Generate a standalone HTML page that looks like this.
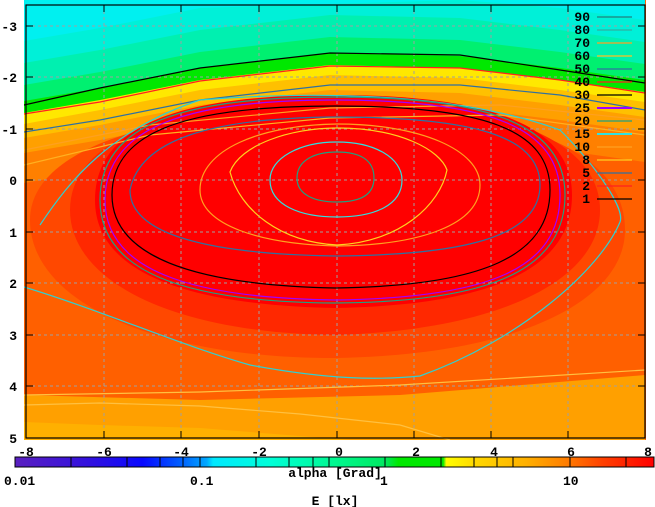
<!DOCTYPE html>
<html><head><meta charset="utf-8"><style>
body{margin:0;background:#fff;}
svg{display:block;font-family:"Liberation Mono",monospace;font-weight:bold;font-size:13px;}
</style></head><body>
<svg width="655" height="507" viewBox="0 0 655 507" xmlns="http://www.w3.org/2000/svg">
<defs>
<clipPath id="c"><rect x="24" y="0" width="622" height="440"/></clipPath>
<linearGradient id="cb" x1="0" x2="1" y1="0" y2="0">
<stop offset="0" stop-color="#5a20c0"/><stop offset="0.12" stop-color="#3010e0"/>
<stop offset="0.2" stop-color="#0808ff"/><stop offset="0.26" stop-color="#0060ff"/>
<stop offset="0.3" stop-color="#00a8ff"/><stop offset="0.31" stop-color="#00e8ff"/>
<stop offset="0.4" stop-color="#00ffd8"/><stop offset="0.5" stop-color="#00f890"/>
<stop offset="0.58" stop-color="#00e860"/><stop offset="0.6" stop-color="#00e800"/>
<stop offset="0.67" stop-color="#00e800"/><stop offset="0.675" stop-color="#ffff00"/>
<stop offset="0.72" stop-color="#ffd800"/><stop offset="0.8" stop-color="#ffb000"/>
<stop offset="0.86" stop-color="#ff8000"/><stop offset="0.92" stop-color="#ff4000"/>
<stop offset="1" stop-color="#ff0000"/>
</linearGradient>
</defs>
<g clip-path="url(#c)">
<rect x="0" y="0" width="655" height="440" fill="#ff6000"/>
<!-- top bands: boundary B: 24,113 100,100 200,80 330,65 460,68 560,80 645,92 -->
<path d="M24,0 L645,0 L645,162 L560,150 L460,138 L330,135 L200,150 L100,170 L24,183 Z" fill="#ff8000"/>
<path d="M24,0 L645,0 L645,132 L560,120 L460,108 L330,105 L200,120 L100,140 L24,153 Z" fill="#ffa000"/>
<path d="M24,0 L645,0 L645,117 L560,105 L460,93 L330,90 L200,105 L100,125 L24,138 Z" fill="#ffc000"/>
<path d="M24,0 L645,0 L645,102 L560,90 L460,78 L330,75 L200,90 L100,110 L24,124 Z" fill="#ffe800"/>
<path d="M24,0 L645,0 L645,92 L560,80 L460,68 L330,65 L200,80 L100,100 L24,113 Z" fill="#00e800"/>
<path d="M24,0 L645,0 L645,80 L560,68 L460,56 L330,53 L200,68 L100,88 L24,101 Z" fill="#00f070"/>
<path d="M24,0 L645,0 L645,64 L560,52 L460,40 L330,37 L200,52 L100,72 L24,85 Z" fill="#00f0b0"/>
<path d="M24,0 L645,0 L645,42 L560,30 L460,18 L330,15 L200,30 L100,50 L24,63 Z" fill="#00f0d8"/>
<path d="M24,0 L645,0 L645,20 L560,8 L460,0 L200,8 L100,28 L24,41 Z" fill="#00f0f0"/>
<!-- core -->
<path d="M30,220 C30,150 150,110 335,108 C520,108 625,150 625,230 C625,300 520,355 335,358 C150,358 30,300 30,220 Z" fill="#ff4800"/>
<path d="M70,210 C70,140 170,100 335,100 C500,100 600,140 600,210 C600,280 500,330 335,335 C170,333 70,280 70,210 Z" fill="#ff2800"/>
<path d="M95,200 C95,125 180,95 335,95 C490,95 572,125 572,195 C572,270 490,305 335,308 C180,305 95,270 95,200 Z" fill="#ff0000"/>
<!-- bottom -->
<path d="M24,395 L200,400 L400,395 L645,375 L645,440 L24,440 Z" fill="#ffa000"/>
<path d="M24,422 L100,425 L200,428 L350,440 L24,440 Z" fill="#ffb000"/>
<!-- grid -->
<g stroke="#a0a0a0" stroke-dasharray="3,3" stroke-width="1">
<line x1="104" y1="5" x2="104" y2="438"/><line x1="181" y1="5" x2="181" y2="438"/><line x1="259" y1="5" x2="259" y2="438"/>
<line x1="337" y1="5" x2="337" y2="438"/><line x1="414" y1="5" x2="414" y2="438"/><line x1="491" y1="5" x2="491" y2="438"/><line x1="568" y1="5" x2="568" y2="438"/>
<line x1="26" y1="26" x2="645" y2="26"/><line x1="26" y1="77" x2="645" y2="77"/><line x1="26" y1="129" x2="645" y2="129"/>
<line x1="26" y1="180" x2="645" y2="180"/><line x1="26" y1="232" x2="645" y2="232"/><line x1="26" y1="283" x2="645" y2="283"/>
<line x1="26" y1="335" x2="645" y2="335"/><line x1="26" y1="386" x2="645" y2="386"/>
</g>
<!-- contours -->
<g fill="none" stroke-width="1.2">
<path d="M24,105 L100,88 L200,68 L330,53 L460,55 L560,70 L645,83" stroke="#000"/>
<path d="M24,114 L100,102 L200,81 L330,66 L460,68 L560,80 L645,93" stroke="#ff2020"/>
<path d="M24,132 L100,120 L200,100 L330,85 L460,85 L560,95 L645,110" stroke="#3070a0"/>
<path d="M24,150 L150,125 L330,108 L500,105 L645,120" stroke="#ffa020"/>
<path d="M24,165 L150,135 L330,118 L500,115 L645,135" stroke="#ffb020"/>
<path d="M40,225 C70,180 110,130 200,100 C300,92 450,90 560,130 C600,170 625,210 620,222 C600,270 520,340 420,376 C380,380 330,380 250,365 C180,345 100,310 24,287" stroke="#30d0d0"/>
<path d="M100,200 C100,125 180,97 335,97 C490,97 565,125 565,195 C565,270 490,302 335,303 C180,302 100,270 100,200 Z" stroke="#20a080"/>
<path d="M105,200 C105,128 185,100 335,100 C490,100 560,128 560,195 C560,268 490,298 335,300 C185,298 105,268 105,200 Z" stroke="#a000ff"/>
<path d="M112,195 C112,130 190,106 335,106 C485,106 550,130 550,190 C550,255 485,286 335,288 C190,285 112,255 112,195 Z" stroke="#000"/>
<path d="M130,190 C140,140 210,118 335,117 C470,117 540,135 540,185 C540,235 470,255 335,256 C210,254 130,235 130,190 Z" stroke="#3070a0"/>
<path d="M200,190 C200,150 260,125 337,124 C420,124 480,150 480,185 C480,225 420,245 337,246 C260,244 200,225 200,190 Z" stroke="#ffa020"/>
<path d="M230,172 C240,145 290,128 337,128 C400,128 440,150 447,170 C440,205 400,242 337,245 C280,242 240,210 230,172 Z" stroke="#ffd020"/>
<path d="M270,180 C270,158 300,142 337,142 C375,142 402,158 402,180 C402,205 375,217 337,217 C300,217 270,205 270,180 Z" stroke="#30e0e0"/>
<path d="M297,178 C297,160 315,152 337,152 C360,152 374,160 374,178 C374,195 360,202 337,202 C315,202 297,195 297,178 Z" stroke="#20a080"/>
<path d="M24,395 L200,392 L400,385 L645,370" stroke="#ffc040"/>
<path d="M24,405 L100,403 L200,406 L300,414 L400,425 L450,440" stroke="#ffc040"/>
</g>
</g>
<!-- key -->
<g text-anchor="end">
<text x="590" y="21">90</text><text x="590" y="34">80</text><text x="590" y="47">70</text><text x="590" y="60">60</text>
<text x="590" y="73">50</text><text x="590" y="86">40</text><text x="590" y="99">30</text><text x="590" y="112">25</text>
<text x="590" y="125">20</text><text x="590" y="138">15</text><text x="590" y="151">10</text><text x="590" y="164">8</text>
<text x="590" y="177">5</text><text x="590" y="190">2</text><text x="590" y="203">1</text>
</g>
<g stroke-width="1.2">
<line x1="597" x2="632" y1="17" y2="17" stroke="#208080"/><line x1="597" x2="632" y1="30" y2="30" stroke="#30b0a0"/>
<line x1="597" x2="632" y1="43" y2="43" stroke="#ffa020"/><line x1="597" x2="632" y1="56" y2="56" stroke="#ffc020"/>
<line x1="597" x2="632" y1="69" y2="69" stroke="#3070a0"/><line x1="597" x2="632" y1="82" y2="82" stroke="#ff2020"/>
<line x1="597" x2="632" y1="95" y2="95" stroke="#000"/><line x1="597" x2="632" y1="108" y2="108" stroke="#a000ff" stroke-width="2"/>
<line x1="597" x2="632" y1="121" y2="121" stroke="#20a080"/><line x1="597" x2="632" y1="134" y2="134" stroke="#30e0e0" stroke-width="2"/>
<line x1="597" x2="632" y1="147" y2="147" stroke="#ffa020"/><line x1="597" x2="632" y1="160" y2="160" stroke="#ffd020"/>
<line x1="597" x2="632" y1="173" y2="173" stroke="#3070a0"/><line x1="597" x2="632" y1="186" y2="186" stroke="#ff2020"/>
<line x1="597" x2="632" y1="199" y2="199" stroke="#000"/>
</g>
<!-- border & ticks -->
<rect x="26" y="5" width="619" height="433" fill="none" stroke="#000" stroke-width="1.2"/>
<g stroke="#000" stroke-width="1">
<path d="M26,26h7M26,77h7M26,129h7M26,180h7M26,232h7M26,283h7M26,335h7M26,386h7M645,26h-7M645,77h-7M645,129h-7M645,180h-7M645,232h-7M645,283h-7M645,335h-7M645,386h-7"/>
<path d="M104,438v-7M181,438v-7M259,438v-7M337,438v-7M414,438v-7M491,438v-7M568,438v-7M104,5v7M181,5v7M259,5v7M337,5v7M414,5v7M491,5v7M568,5v7"/>
</g>
<g text-anchor="end">
<text x="17" y="31">-3</text><text x="17" y="82">-2</text><text x="17" y="134">-1</text><text x="17" y="185">0</text>
<text x="17" y="237">1</text><text x="17" y="288">2</text><text x="17" y="340">3</text><text x="17" y="391">4</text><text x="17" y="443">5</text>
</g>
<g text-anchor="middle">
<text x="26" y="456">-8</text><text x="104" y="456">-6</text><text x="181" y="456">-4</text><text x="259" y="456">-2</text>
<text x="339" y="456">0</text><text x="416" y="456">2</text><text x="494" y="456">4</text><text x="571" y="456">6</text><text x="648" y="456">8</text>
</g>
<!-- colorbar -->
<rect x="15" y="457" width="639" height="10" fill="url(#cb)" stroke="#000" stroke-width="1"/>
<g stroke="#000" stroke-width="1">
<path d="M71,457v10M127,457v10M160,457v10M183,457v10M200,457v10M256,457v10M289,457v10M313,457v10M329,457v10M385,457v10M441,457v10M474,457v10M497,457v10M513,457v10M570,457v10M626,457v10"/>
</g>
<text x="4" y="485">0.01</text><text x="190" y="485">0.1</text><text x="380" y="485">1</text><text x="563" y="485">10</text>
<text x="335" y="477" text-anchor="middle">alpha [Grad]</text>
<text x="335" y="505" text-anchor="middle">E [lx]</text>
</svg>
</body></html>
